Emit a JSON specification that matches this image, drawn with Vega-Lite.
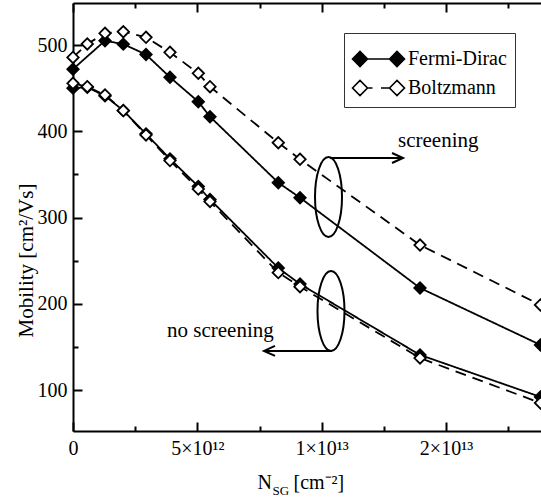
{
  "$schema": "https://vega.github.io/schema/vega-lite/v6.json",
  "width": 468,
  "height": 428,
  "autosize": {"type": "none"},
  "padding": {"left": 73, "top": 3, "right": 0, "bottom": 66},
  "config": {
    "font": "Liberation Serif",
    "view": {"stroke": null},
    "axis": {"domainColor": "black", "tickColor": "black", "labelColor": "black", "titleColor": "black", "domainWidth": 2, "tickWidth": 2, "grid": false, "labelFont": "Liberation Serif", "titleFont": "Liberation Serif", "titleFontWeight": "normal", "labelFontSize": 20, "titleFontSize": 20, "labelFlush": false, "labelOverlap": false},
    "legend": {"labelFont": "Liberation Serif", "labelColor": "black"}
  },
  "datasets": {
    "curves": [
      {"series": "FD-screening", "model": "Fermi-Dirac", "n": 0, "mu": 472},
      {"series": "FD-screening", "model": "Fermi-Dirac", "n": 1.287, "mu": 505},
      {"series": "FD-screening", "model": "Fermi-Dirac", "n": 2.023, "mu": 501},
      {"series": "FD-screening", "model": "Fermi-Dirac", "n": 2.936, "mu": 489},
      {"series": "FD-screening", "model": "Fermi-Dirac", "n": 3.9, "mu": 462.6},
      {"series": "FD-screening", "model": "Fermi-Dirac", "n": 5.039, "mu": 434.3},
      {"series": "FD-screening", "model": "Fermi-Dirac", "n": 5.509, "mu": 416.9},
      {"series": "FD-screening", "model": "Fermi-Dirac", "n": 8.256, "mu": 340.4},
      {"series": "FD-screening", "model": "Fermi-Dirac", "n": 9.129, "mu": 323},
      {"series": "FD-screening", "model": "Fermi-Dirac", "n": 13.955, "mu": 218.3},
      {"series": "FD-screening", "model": "Fermi-Dirac", "n": 18.8, "mu": 152.3},
      {"series": "FD-noscreening", "model": "Fermi-Dirac", "n": 0, "mu": 450},
      {"series": "FD-noscreening", "model": "Fermi-Dirac", "n": 0.575, "mu": 451},
      {"series": "FD-noscreening", "model": "Fermi-Dirac", "n": 1.287, "mu": 441},
      {"series": "FD-noscreening", "model": "Fermi-Dirac", "n": 2.023, "mu": 424},
      {"series": "FD-noscreening", "model": "Fermi-Dirac", "n": 2.936, "mu": 397},
      {"series": "FD-noscreening", "model": "Fermi-Dirac", "n": 3.9, "mu": 368},
      {"series": "FD-noscreening", "model": "Fermi-Dirac", "n": 5.039, "mu": 336},
      {"series": "FD-noscreening", "model": "Fermi-Dirac", "n": 5.509, "mu": 321},
      {"series": "FD-noscreening", "model": "Fermi-Dirac", "n": 8.256, "mu": 241.5},
      {"series": "FD-noscreening", "model": "Fermi-Dirac", "n": 9.129, "mu": 222.9},
      {"series": "FD-noscreening", "model": "Fermi-Dirac", "n": 13.955, "mu": 140.7},
      {"series": "FD-noscreening", "model": "Fermi-Dirac", "n": 18.8, "mu": 92},
      {"series": "B-screening", "model": "Boltzmann", "n": 0, "mu": 485.6},
      {"series": "B-screening", "model": "Boltzmann", "n": 0.575, "mu": 501.2},
      {"series": "B-screening", "model": "Boltzmann", "n": 1.287, "mu": 513.6},
      {"series": "B-screening", "model": "Boltzmann", "n": 2.023, "mu": 515.4},
      {"series": "B-screening", "model": "Boltzmann", "n": 2.936, "mu": 508.9},
      {"series": "B-screening", "model": "Boltzmann", "n": 3.9, "mu": 491.5},
      {"series": "B-screening", "model": "Boltzmann", "n": 5.039, "mu": 467.2},
      {"series": "B-screening", "model": "Boltzmann", "n": 5.509, "mu": 451.7},
      {"series": "B-screening", "model": "Boltzmann", "n": 8.256, "mu": 386.7},
      {"series": "B-screening", "model": "Boltzmann", "n": 9.129, "mu": 367.5},
      {"series": "B-screening", "model": "Boltzmann", "n": 13.955, "mu": 268.1},
      {"series": "B-screening", "model": "Boltzmann", "n": 18.8, "mu": 198.6},
      {"series": "B-noscreening", "model": "Boltzmann", "n": 0, "mu": 455.6},
      {"series": "B-noscreening", "model": "Boltzmann", "n": 0.575, "mu": 451.7},
      {"series": "B-noscreening", "model": "Boltzmann", "n": 1.287, "mu": 442.1},
      {"series": "B-noscreening", "model": "Boltzmann", "n": 2.023, "mu": 423.9},
      {"series": "B-noscreening", "model": "Boltzmann", "n": 2.936, "mu": 395.7},
      {"series": "B-noscreening", "model": "Boltzmann", "n": 3.9, "mu": 366},
      {"series": "B-noscreening", "model": "Boltzmann", "n": 5.039, "mu": 333},
      {"series": "B-noscreening", "model": "Boltzmann", "n": 5.509, "mu": 318.5},
      {"series": "B-noscreening", "model": "Boltzmann", "n": 8.256, "mu": 236.1},
      {"series": "B-noscreening", "model": "Boltzmann", "n": 9.129, "mu": 219.8},
      {"series": "B-noscreening", "model": "Boltzmann", "n": 13.955, "mu": 137.1},
      {"series": "B-noscreening", "model": "Boltzmann", "n": 18.8, "mu": 85}
    ],
    "ellipses": [
      {"group": "screening", "n": 10.275, "mu": 323.8},
      {"group": "no screening", "n": 10.375, "mu": 191.6}
    ],
    "arrows": [
      {"group": "screening", "n": 10.335, "n2": 13.271, "mu": 369.0, "dir": "right"},
      {"group": "no screening", "n": 10.416, "n2": 7.681, "mu": 145.3, "dir": "left"}
    ],
    "labels": [
      {"n": 13.07, "mu": 381.7, "label": "screening"},
      {"n": 3.78, "mu": 161.5, "label": "no screening"}
    ]
  },
  "resolve": {"axis": {"x": "independent", "y": "independent"}},
  "layer": [
    {
      "data": {"name": "curves"},
      "mark": {"type": "line", "color": "black", "strokeWidth": 1.8},
      "encoding": {
        "x": {"field": "n", "type": "quantitative", "scale": {"domain": [0, 18.82], "nice": false, "zero": false},
          "axis": {"orient": "bottom", "values": [0, 5, 10, 15], "labelExpr": "datum.value == 0 ? '0' : datum.value == 5 ? '5×10¹²' : datum.value == 10 ? '1×10¹³' : '2×10¹³'", "tickSize": -9, "labelPadding": 16, "labelBaseline": "top", "title": "N", "titleAlign": "left", "titleAnchor": "start", "titleX": 184, "titleY": 57, "titleBaseline": "alphabetic"}},
        "y": {"field": "mu", "type": "quantitative", "scale": {"domain": [52.5, 548.7], "nice": false, "zero": false},
          "axis": {"orient": "left", "values": [100, 200, 300, 400, 500], "tickSize": -9, "labelPadding": 15, "title": "Mobility [cm²/Vs]", "titleFontSize": 21, "titleX": -47, "titleY": 257, "titleAlign": "center", "titleBaseline": "middle"}},
        "detail": {"field": "series"},
        "strokeDash": {"condition": {"test": "datum.model === 'Boltzmann'", "value": [11, 7]}, "value": [1, 0]}
      }
    },
    {
      "data": {"name": "curves"},
      "mark": {"type": "point", "shape": "diamond", "filled": true, "stroke": "black", "strokeWidth": 1.8, "size": 130, "opacity": 1},
      "encoding": {
        "x": {"field": "n", "type": "quantitative", "scale": {"domain": [0, 18.82], "nice": false, "zero": false},
          "axis": {"orient": "bottom", "values": [2.5, 7.5, 12.5, 17.5], "tickSize": -5, "labels": false, "domain": false, "title": "SG", "titleFontSize": 13, "titleAlign": "left", "titleAnchor": "start", "titleX": 199, "titleY": 63, "titleBaseline": "alphabetic"}},
        "y": {"field": "mu", "type": "quantitative", "scale": {"domain": [52.5, 548.7], "nice": false, "zero": false},
          "axis": {"orient": "left", "values": [150, 250, 350, 450], "tickSize": -5, "labels": false, "domain": false, "title": null}},
        "fill": {"field": "model", "type": "nominal", "scale": {"domain": ["Fermi-Dirac", "Boltzmann"], "range": ["black", "white"]},
          "legend": {"title": null, "orient": "none", "legendX": 271, "legendY": 30, "padding": 8, "strokeColor": "#333", "fillColor": "white", "symbolSize": 1156, "rowPadding": -6, "labelOffset": 20, "labelFontSize": 20, "labelColor": "black", "symbolStrokeColor": "black", "symbolStrokeWidth": 1.6, "symbolOpacity": 1,
            "encode": {"symbols": {"update": {
              "shape": {"signal": "datum.value === 'Fermi-Dirac' ? 'M-1.029,0L-0.588,-0.441L-0.147,0L-0.588,0.441Z M-0.147,0L1.147,0 M1.147,0L1.588,-0.441L2.029,0L1.588,0.441Z' : 'M-1.029,0L-0.588,-0.441L-0.147,0L-0.588,0.441Z M-0.147,0L0.147,0 M0.647,0L1.147,0 M1.147,0L1.588,-0.441L2.029,0L1.588,0.441Z'"},
              "stroke": {"value": "black"}, "strokeWidth": {"value": 1.6}, "size": {"value": 1156}, "opacity": {"value": 1}}}}}}
      }
    },
    {
      "data": {"name": "ellipses"},
      "mark": {"type": "point", "shape": "M0,-1C0.1864,-1 0.3375,-0.5523 0.3375,0C0.3375,0.5523 0.1864,1 0,1C-0.1864,1 -0.3375,0.5523 -0.3375,0C-0.3375,-0.5523 -0.1864,-1 0,-1Z", "filled": false, "stroke": "black", "strokeWidth": 2, "size": 6400, "opacity": 1},
      "encoding": {
        "x": {"field": "n", "type": "quantitative", "scale": {"domain": [0, 18.82], "nice": false, "zero": false},
          "axis": {"orient": "top", "values": [0, 5, 10, 15], "tickSize": -9, "labels": false, "title": null}},
        "y": {"field": "mu", "type": "quantitative", "scale": {"domain": [52.5, 548.7], "nice": false, "zero": false}, "axis": null}
      }
    },
    {
      "data": {"name": "arrows"},
      "mark": {"type": "rule", "color": "black", "strokeWidth": 2},
      "encoding": {
        "x": {"field": "n", "type": "quantitative", "scale": {"domain": [0, 18.82], "nice": false, "zero": false},
          "axis": {"orient": "top", "values": [2.5, 7.5, 12.5, 17.5], "tickSize": -5, "labels": false, "domain": false, "title": null}},
        "x2": {"field": "n2"},
        "y": {"field": "mu", "type": "quantitative", "scale": {"domain": [52.5, 548.7], "nice": false, "zero": false}, "axis": null}
      }
    },
    {
      "data": {"name": "arrows"},
      "mark": {"type": "point", "filled": false, "stroke": "black", "strokeWidth": 2, "size": 484, "opacity": 1},
      "encoding": {
        "x": {"field": "n2", "type": "quantitative", "scale": {"domain": [0, 18.82], "nice": false, "zero": false},
          "axis": {"orient": "bottom", "ticks": false, "labels": false, "domain": false, "title": "[cm⁻²]", "titleAlign": "left", "titleAnchor": "start", "titleX": 220, "titleY": 57, "titleBaseline": "alphabetic"}},
        "y": {"field": "mu", "type": "quantitative", "scale": {"domain": [52.5, 548.7], "nice": false, "zero": false}, "axis": null},
        "shape": {"field": "dir", "type": "nominal", "scale": {"domain": ["right", "left"], "range": ["M-1,-0.4545L0,0L-1,0.4545", "M1,-0.4545L0,0L1,0.4545"]}, "legend": null}
      }
    },
    {
      "data": {"name": "labels"},
      "mark": {"type": "text", "align": "left", "baseline": "alphabetic", "fontSize": 21, "font": "Liberation Serif", "color": "black"},
      "encoding": {
        "x": {"field": "n", "type": "quantitative", "scale": {"domain": [0, 18.82], "nice": false, "zero": false}, "axis": null},
        "y": {"field": "mu", "type": "quantitative", "scale": {"domain": [52.5, 548.7], "nice": false, "zero": false}, "axis": null},
        "text": {"field": "label"}
      }
    }
  ]
}
